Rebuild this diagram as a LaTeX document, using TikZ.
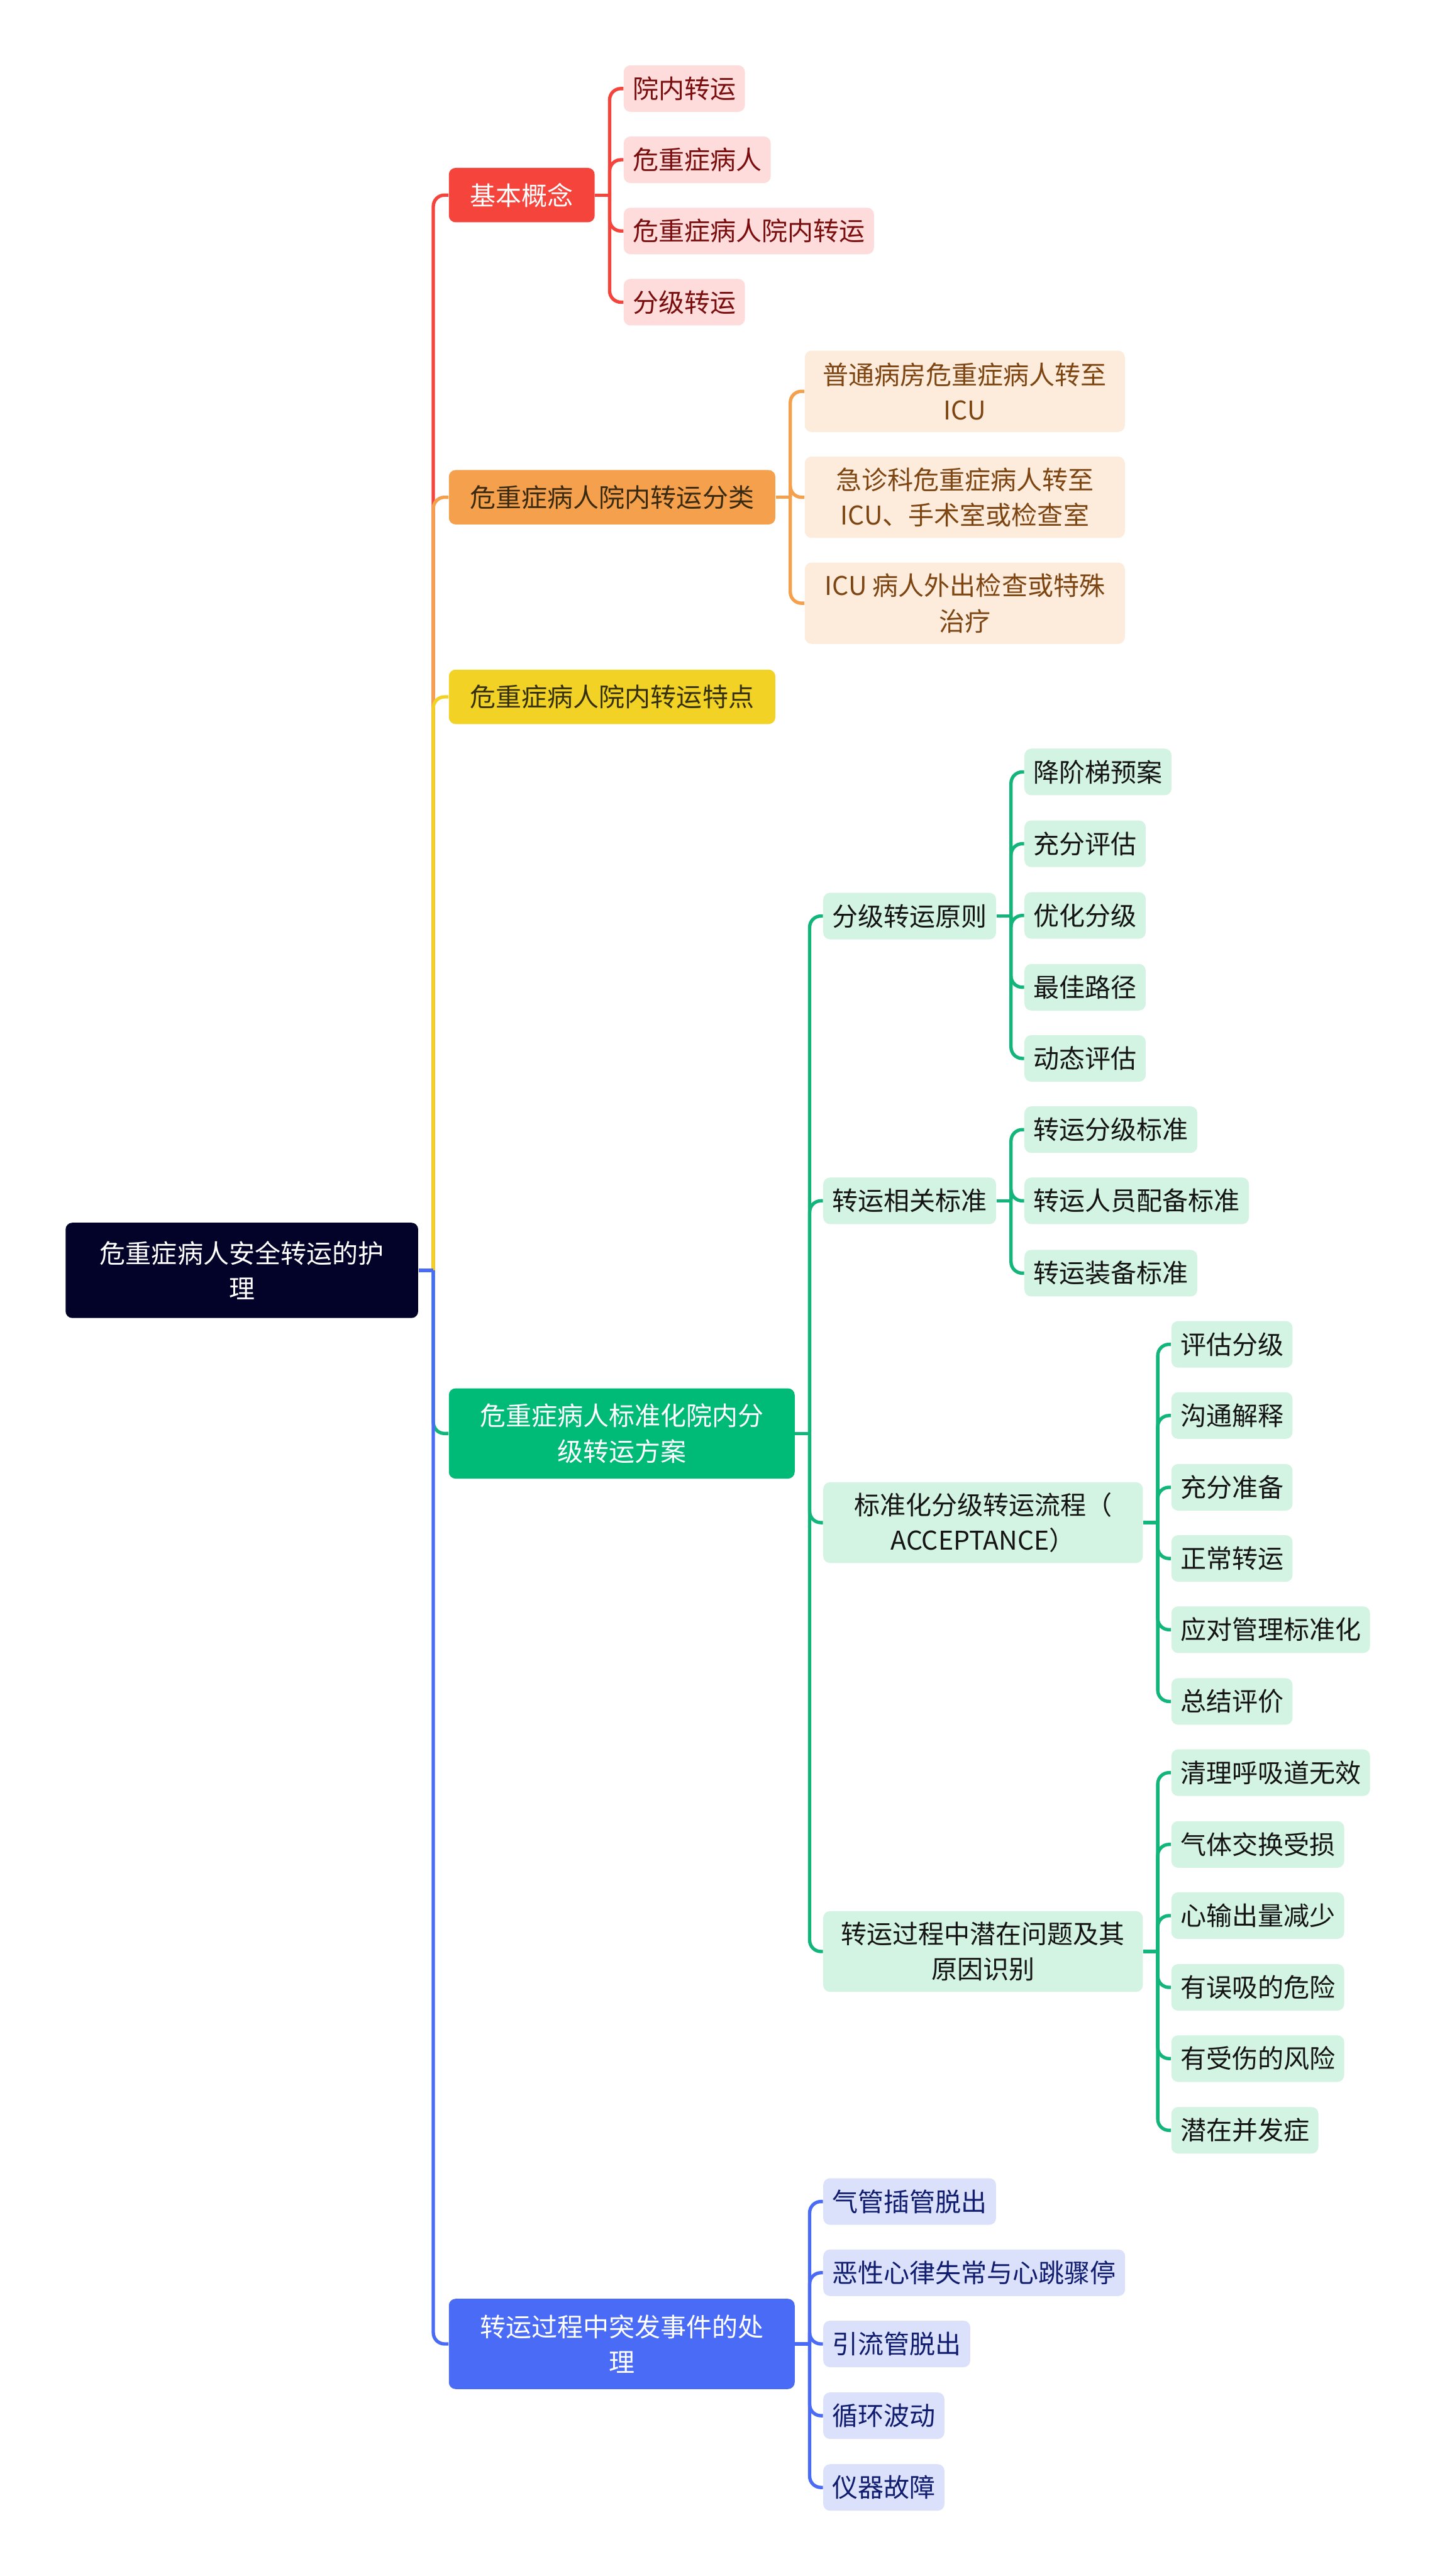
\documentclass[tikz,border=0pt]{standalone}
\usepackage{fontspec}
\setmainfont{Noto Sans CJK SC}
\usepackage{tikz}
\usetikzlibrary{positioning}
\usepackage{xcolor}
\definecolor{rootnavy}{HTML}{03032A}
\definecolor{redmain}{HTML}{F5443C}
\definecolor{redlight}{HTML}{FDDCDB}
\definecolor{redtext}{HTML}{7A0E0E}
\definecolor{orangemain}{HTML}{F4A04C}
\definecolor{orangelight}{HTML}{FDEBDC}
\definecolor{orangetext}{HTML}{7C4512}
\definecolor{orangedark}{HTML}{3B2A12}
\definecolor{yellowmain}{HTML}{F2D325}
\definecolor{yellowdark}{HTML}{35300F}
\definecolor{greenmain}{HTML}{00BA78}
\definecolor{greenline}{HTML}{12B67A}
\definecolor{greenlight}{HTML}{D3F3E3}
\definecolor{greentext}{HTML}{141414}
\definecolor{bluemain}{HTML}{4A6BF6}
\definecolor{bluelight}{HTML}{DBE1FA}
\definecolor{bluetext}{HTML}{101C6E}
\tikzset{
	box/.style={rounded corners=0.12cm, inner xsep=0.16cm, inner ysep=0pt, minimum height=0.83cm, anchor=west, align=center, font=\fontsize{13.1pt}{18pt}\selectfont},
	rootbox/.style={box, fill=rootnavy, text=white, minimum width=6.29cm, minimum height=1.70cm, anchor=center},
	topic/.style={box, inner xsep=0.38cm, minimum height=0.97cm},
	redtopic/.style={topic, fill=redmain, text=white},
	orangetopic/.style={topic, fill=orangemain, text=orangedark},
	yellowtopic/.style={topic, fill=yellowmain, text=yellowdark},
	greentopic/.style={topic, fill=greenmain, text=white, minimum width=6.17cm, minimum height=1.61cm},
	bluetopic/.style={topic, fill=bluemain, text=white, minimum width=6.17cm, minimum height=1.61cm},
	redleaf/.style={box, fill=redlight, text=redtext},
	orangeleaf/.style={box, fill=orangelight, text=orangetext, minimum width=5.71cm, minimum height=1.45cm},
	greenleaf/.style={box, fill=greenlight, text=greentext},
	greenwide/.style={greenleaf, minimum width=5.70cm, minimum height=1.44cm},
	blueleaf/.style={box, fill=bluelight, text=bluetext},
	link/.style={line width=0.06cm, rounded corners=0.2cm}
}

\begin{document}
\begin{tikzpicture}
		% Page size and white background
		\fill[white] (0,0) rectangle (25.6,-45.95);
		\useasboundingbox (0,0) rectangle (25.6,-45.95);
		
		% Central topic
		\node[rootbox] (root) at (4.315,-22.66) {危重症病人安全转运的护\\理};
		\coordinate (trunk) at (7.73,-22.66);
		
		% Main branches
		\node[redtopic] (bgn) at (8.00,-3.48) {基本概念};
		\node[orangetopic] (cls) at (8.00,-8.87) {危重症病人院内转运分类};
		\node[yellowtopic] (feat) at (8.00,-12.43) {危重症病人院内转运特点};
		\node[greentopic] (plan) at (8.00,-25.57) {危重症病人标准化院内分\\级转运方案};
		\node[bluetopic] (emer) at (8.00,-41.81) {转运过程中突发事件的处\\理};
		
		% Basic concepts
		\node[redleaf] (r1) at (11.12,-1.58) {院内转运};
		\node[redleaf] (r2) at (11.12,-2.85) {危重症病人};
		\node[redleaf] (r3) at (11.12,-4.12) {危重症病人院内转运};
		\node[redleaf] (r4) at (11.12,-5.39) {分级转运};
		
		% Classification
		\node[orangeleaf] (o1) at (14.35,-6.98) {普通病房危重症病人转至\\ICU};
		\node[orangeleaf] (o2) at (14.35,-8.87) {急诊科危重症病人转至\\ICU、手术室或检查室};
		\node[orangeleaf] (o3) at (14.35,-10.76) {ICU 病人外出检查或特殊\\治疗};
		
		% Standardised plan, second level
		\node[greenleaf] (g1) at (14.68,-16.34) {分级转运原则};
		\node[greenleaf] (g2) at (14.68,-21.42) {转运相关标准};
		\node[greenwide] (g3) at (14.68,-27.16) {标准化分级转运流程（\\ACCEPTANCE）};
		\node[greenwide] (g4) at (14.68,-34.81) {转运过程中潜在问题及其\\原因识别};
		
		% Principles
		\node[greenleaf] (p1) at (18.27,-13.77) {降阶梯预案};
		\node[greenleaf] (p2) at (18.27,-15.05) {充分评估};
		\node[greenleaf] (p3) at (18.27,-16.33) {优化分级};
		\node[greenleaf] (p4) at (18.27,-17.61) {最佳路径};
		\node[greenleaf] (p5) at (18.27,-18.88) {动态评估};
		
		% Standards
		\node[greenleaf] (s1) at (18.27,-20.15) {转运分级标准};
		\node[greenleaf] (s2) at (18.27,-21.42) {转运人员配备标准};
		\node[greenleaf] (s3) at (18.27,-22.71) {转运装备标准};
		
		% ACCEPTANCE steps
		\node[greenleaf] (a1) at (20.89,-23.98) {评估分级};
		\node[greenleaf] (a2) at (20.89,-25.25) {沟通解释};
		\node[greenleaf] (a3) at (20.89,-26.53) {充分准备};
		\node[greenleaf] (a4) at (20.89,-27.80) {正常转运};
		\node[greenleaf] (a5) at (20.89,-29.07) {应对管理标准化};
		\node[greenleaf] (a6) at (20.89,-30.35) {总结评价};
		
		% Potential problems
		\node[greenleaf] (q1) at (20.89,-31.62) {清理呼吸道无效};
		\node[greenleaf] (q2) at (20.89,-32.90) {气体交换受损};
		\node[greenleaf] (q3) at (20.89,-34.17) {心输出量减少};
		\node[greenleaf] (q4) at (20.89,-35.45) {有误吸的危险};
		\node[greenleaf] (q5) at (20.89,-36.72) {有受伤的风险};
		\node[greenleaf] (q6) at (20.89,-38.00) {潜在并发症};
		
		% Emergencies
		\node[blueleaf] (e1) at (14.68,-39.27) {气管插管脱出};
		\node[blueleaf] (e2) at (14.68,-40.54) {恶性心律失常与心跳骤停};
		\node[blueleaf] (e3) at (14.68,-41.81) {引流管脱出};
		\node[blueleaf] (e4) at (14.68,-43.09) {循环波动};
		\node[blueleaf] (e5) at (14.68,-44.37) {仪器故障};
		
		% Trunk from the central topic (later colours lie on top)
		\draw[link, redmain] (trunk) |- (bgn.west);
		\draw[link, orangemain] (trunk) |- (cls.west);
		\draw[link, yellowmain] (trunk) |- (feat.west);
		\draw[link, greenline] (trunk) |- (plan.west);
		\draw[link, bluemain] (trunk) |- (emer.west);
		\draw[link, bluemain] (root.east) -- (trunk);
		
		% Junctions right of each parent
		\path (bgn.east) ++(0.26,0) coordinate (bgnj);
		\path (cls.east) ++(0.26,0) coordinate (clsj);
		\path (plan.east) ++(0.26,0) coordinate (planj);
		\path (g1.east) ++(0.26,0) coordinate (g1j);
		\path (g2.east) ++(0.26,0) coordinate (g2j);
		\path (g3.east) ++(0.26,0) coordinate (g3j);
		\path (g4.east) ++(0.26,0) coordinate (g4j);
		\path (emer.east) ++(0.26,0) coordinate (emerj);
		
		% Branch connectors
		\draw[link, redmain] (bgn.east) -- (bgnj);
		\foreach \c in {r1,r2,r3,r4}
			\draw[link, redmain] (bgnj) |- (\c.west);
		\draw[link, orangemain] (cls.east) -- (clsj);
		\foreach \c in {o1,o2,o3}
			\draw[link, orangemain] (clsj) |- (\c.west);
		\draw[link, greenline] (plan.east) -- (planj);
		\foreach \c in {g1,g2,g3,g4}
			\draw[link, greenline] (planj) |- (\c.west);
		\draw[link, greenline] (g1.east) -- (g1j);
		\foreach \c in {p1,p2,p3,p4,p5}
			\draw[link, greenline] (g1j) |- (\c.west);
		\draw[link, greenline] (g2.east) -- (g2j);
		\foreach \c in {s1,s2,s3}
			\draw[link, greenline] (g2j) |- (\c.west);
		\draw[link, greenline] (g3.east) -- (g3j);
		\foreach \c in {a1,a2,a3,a4,a5,a6}
			\draw[link, greenline] (g3j) |- (\c.west);
		\draw[link, greenline] (g4.east) -- (g4j);
		\foreach \c in {q1,q2,q3,q4,q5,q6}
			\draw[link, greenline] (g4j) |- (\c.west);
		\draw[link, bluemain] (emer.east) -- (emerj);
		\foreach \c in {e1,e2,e3,e4,e5}
			\draw[link, bluemain] (emerj) |- (\c.west);
		
	\end{tikzpicture}
\end{document}
